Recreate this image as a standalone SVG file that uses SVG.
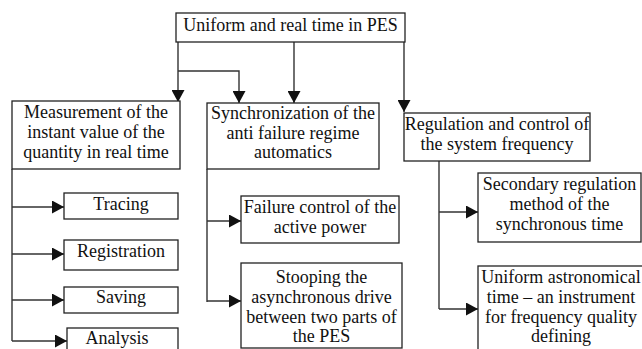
<svg xmlns="http://www.w3.org/2000/svg" width="642" height="349" viewBox="0 0 642 349">
<style>
.box{fill:#fff;stroke:#222;stroke-width:1.3}
.t{font-family:"Liberation Serif","Times New Roman",serif;font-size:18px;fill:#111;text-anchor:middle}
.c{fill:none;stroke:#333;stroke-width:1.4}
</style>
<defs>
<marker id="ah" markerUnits="userSpaceOnUse" markerWidth="13" markerHeight="13" refX="12" refY="6.5" orient="auto">
<path d="M0,0 L12,6.5 L0,13 z" fill="#111"/>
</marker>
</defs>
<g id="connectors">
<path class="c" d="M178,42 V102" marker-end="url(#ah)"/>
<path class="c" d="M178,71 H239 V103" marker-end="url(#ah)"/>
<path class="c" d="M294,42 V103" marker-end="url(#ah)"/>
<path class="c" d="M404,42 V112" marker-end="url(#ah)"/>
<path class="c" d="M12,169 V341"/>
<path class="c" d="M12,207 H64" marker-end="url(#ah)"/>
<path class="c" d="M12,254 H64" marker-end="url(#ah)"/>
<path class="c" d="M12,300 H64" marker-end="url(#ah)"/>
<path class="c" d="M12,341 H67" marker-end="url(#ah)"/>
<path class="c" d="M207,169 V302"/>
<path class="c" d="M207,221 H241" marker-end="url(#ah)"/>
<path class="c" d="M207,301 H241" marker-end="url(#ah)"/>
<path class="c" d="M439,161 V309"/>
<path class="c" d="M439,212 H478" marker-end="url(#ah)"/>
<path class="c" d="M439,309 H478" marker-end="url(#ah)"/>
</g>
<g id="top">
<rect class="box" x="176" y="13" width="229" height="29"/>
<text class="t" x="290.5" y="31">Uniform and real time in PES</text>
</g>
<g id="measurement">
<rect class="box" x="12" y="101" width="168" height="68"/>
<text class="t" x="96" y="118">Measurement of the</text>
<text class="t" x="96" y="138">instant value of the</text>
<text class="t" x="96" y="158">quantity in real time</text>
</g>
<g id="tracing">
<rect class="box" x="64" y="193" width="114" height="26"/>
<text class="t" x="121" y="210">Tracing</text>
</g>
<g id="registration">
<rect class="box" x="64" y="240" width="114" height="30"/>
<text class="t" x="121" y="257">Registration</text>
</g>
<g id="saving">
<rect class="box" x="64" y="287" width="114" height="26"/>
<text class="t" x="121" y="303">Saving</text>
</g>
<g id="analysis">
<rect class="box" x="67" y="328" width="111" height="30"/>
<text class="t" x="117" y="344">Analysis</text>
</g>
<g id="synchronization">
<rect class="box" x="207" y="103" width="172" height="66"/>
<text class="t" x="293" y="119">Synchronization of the</text>
<text class="t" x="293" y="139">anti failure regime</text>
<text class="t" x="293" y="158">automatics</text>
</g>
<g id="failure">
<rect class="box" x="241" y="196" width="158" height="47"/>
<text class="t" x="320" y="213">Failure control of the</text>
<text class="t" x="320" y="233">active power</text>
</g>
<g id="stooping">
<rect class="box" x="241" y="263" width="161" height="85"/>
<text class="t" x="321.5" y="283">Stooping the</text>
<text class="t" x="321.5" y="303">asynchronous drive</text>
<text class="t" x="321.5" y="323">between two parts of</text>
<text class="t" x="321.5" y="342">the PES</text>
</g>
<g id="regulation">
<rect class="box" x="404" y="113" width="186" height="48"/>
<text class="t" x="497" y="130">Regulation and control of</text>
<text class="t" x="497" y="150">the system frequency</text>
</g>
<g id="secondary">
<rect class="box" x="478" y="173" width="163" height="69"/>
<text class="t" x="559.5" y="190">Secondary regulation</text>
<text class="t" x="559.5" y="210">method of the</text>
<text class="t" x="559.5" y="230">synchronous time</text>
</g>
<g id="uniform">
<rect class="box" x="478" y="266" width="170" height="90"/>
<text class="t" x="561" y="283">Uniform astronomical</text>
<text class="t" x="561" y="303">time – an instrument</text>
<text class="t" x="561" y="323">for frequency quality</text>
<text class="t" x="561" y="342">defining</text>
</g>
</svg>
